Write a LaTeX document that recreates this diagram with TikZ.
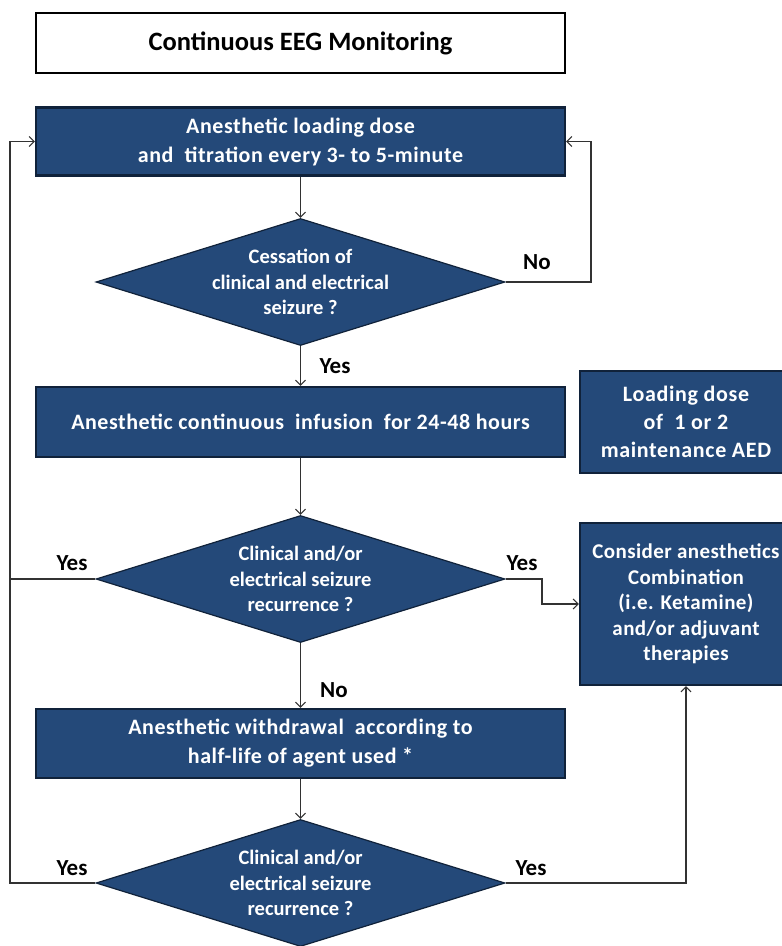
\documentclass[tikz,border=0pt]{standalone}
\usepackage{fontspec}
\setmainfont{Carlito}
\usetikzlibrary{arrows.meta,shapes.geometric,calc}
\definecolor{boxblue}{RGB}{36,73,121}
\definecolor{boxedge}{RGB}{16,34,58}
\definecolor{conn}{RGB}{50,50,50}
\tikzset{
  flowbox/.style={draw=boxedge, line width=2.2pt, fill=boxblue, text=white, font=\bfseries\fontsize{22}{29}\selectfont\addfontfeatures{LetterSpace=2.5}, align=center, inner sep=0pt, minimum width=529pt},
  sidebox/.style={draw=boxedge, line width=2.2pt, fill=boxblue, text=white, font=\bfseries\fontsize{22}{28}\selectfont\addfontfeatures{LetterSpace=3}, align=center, inner sep=0pt, minimum width=212pt},
  decision/.style={draw=boxedge, line width=1.2pt, fill=boxblue, diamond, inner sep=0pt, minimum width=409pt, minimum height=127pt},
  dtext/.style={text=white, font=\bfseries\fontsize{20.5}{25.5}\selectfont, align=center, inner sep=0pt},
  lbl/.style={font=\bfseries\fontsize{23}{24}\selectfont, text=black, inner sep=0pt},
  link/.style={draw=conn, line width=1.1pt, -{Straight Barb[length=5pt,width=10pt]}},
  plainlink/.style={draw=conn, line width=1.1pt}
}
\begin{document}
\begin{tikzpicture}[x=1pt,y=-1pt]
\useasboundingbox (0,0) rectangle (782,946);
\clip (0,0) rectangle (782,946);
% title
\node[draw=black, line width=2.4pt, fill=white, minimum width=529pt, minimum height=60pt, inner sep=0pt, font=\bfseries\fontsize{26.5}{30}\selectfont] (title) at (300.5,43) {Continuous EEG Monitoring};
% boxes
\node[flowbox, minimum height=68pt] (load) at (300.5,141.5) {Anesthetic loading dose\\and\ \ titration every 3- to 5-minute};
\node[decision] (d1) at (300.5,282) {};
\node[dtext] (d1t) at (300.5,282) {Cessation of\\clinical and electrical\\seizure ?};
\node[flowbox, minimum height=70pt] (infuse) at (300.5,422) {Anesthetic continuous\ \ infusion\ \ for 24-48 hours};
\node[sidebox, minimum height=102pt] (aed) at (686,422) {Loading dose\\of\ \ 1 or 2\\maintenance AED};
\node[decision] (d2) at (300.5,579) {};
\node[dtext] (d2t) at (300.5,579) {Clinical and/or\\electrical seizure\\recurrence ?};
\node[sidebox, minimum height=162pt, font=\bfseries\fontsize{21}{25.5}\selectfont\addfontfeatures{LetterSpace=2}] (cons) at (686,604) {Consider anesthetics\\Combination\\(i.e. Ketamine)\\and/or adjuvant\\therapies};
\node[flowbox, minimum height=69pt] (withdraw) at (300.5,743.5) {Anesthetic withdrawal\ \ according to\\half-life of agent used *};
\node[decision] (d3) at (300.5,883) {};
\node[dtext] (d3t) at (300.5,883) {Clinical and/or\\electrical seizure\\recurrence ?};
% coordinates
\coordinate (r1) at (591,282);
\coordinate (l2) at (10,579);
\coordinate (l3) at (10,883);
\coordinate (b2) at (542,579);
% connectors
\draw[link] (load.south) -- (d1.north);
\draw[link] (d1.east) -- (r1) |- (load.east);
\draw[link] (d1.south) -- (infuse.north);
\draw[link] (infuse.south) -- (d2.north);
\draw[link] (d2.west) -- (l2) |- (load.west);
\draw[link] (d2.east) -- (b2) |- (cons.west);
\draw[link] (d2.south) -- (withdraw.north);
\draw[link] (withdraw.south) -- (d3.north);
\draw[plainlink] (d3.west) -- (l3) -- (l2);
\draw[link] (d3.east) -| (cons.south);
% labels
\node[lbl] (no1) at (537,262) {No};
\node[lbl] (yes1) at (335,366) {Yes};
\node[lbl] (yes2l) at (72,563) {Yes};
\node[lbl] (yes2r) at (522,563) {Yes};
\node[lbl] (no2) at (334,690) {No};
\node[lbl] (yes3l) at (72,868) {Yes};
\node[lbl] (yes3r) at (531,868) {Yes};
\end{tikzpicture}
\end{document}
